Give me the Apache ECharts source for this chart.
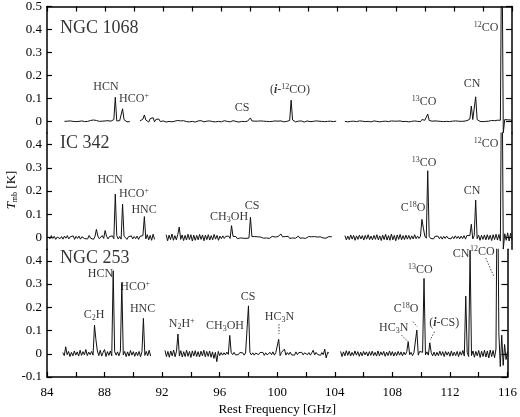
<!DOCTYPE html>
<html>
<head>
<meta charset="utf-8">
<script src="https://cdn.jsdelivr.net/npm/echarts@6.0.0/dist/echarts.min.js"></script>
<style>
  html, body { margin: 0; padding: 0; background: #fff; }
  #chart-container { width: 520px; height: 417px; }
</style>
</head>
<body>
<div id="chart-container"></div>
<script>
// spectra sampled every 0.1 GHz, values in mK; each segment has its own start frequency
const STEP = 0.1;

const ngc1068Starts = [85.2, 90.4, 104.5];
const ngc1068A = [0,-2,1,-1,2,-3,0,2,-1,3, 0,-2,2,1,-1,3,0,2,4,2, 6,10,4,-3,0,-2,1,-1,2,0, 3,-2,1,6,8,105,2,-1,3,6, 55,8,2,-2,1,-1];
const ngc1068B = [2,5,10,28,6,14,-3,12,4,16,-2,9,3,10,-1,6,2,7,-3,4,
  0,5,-2,3,1,-3,4,0,2,-2,3,1,-1,4,-2,2,0,3,-3,1,
  2,-1,3,0,-2,2,1,-3,2,0,-1,3,-2,1,0,2,-2,1,3,-1,
  0,2,-2,1,3,-1,0,2,-3,1,0,2,-1,3,1,0,15,2,-1,1,
  -2,1,0,2,-1,1,-2,0,3,-1,1,0,-2,2,0,1,-1,2,0,-2,
  1,0,2,4,92,6,1,-2,0,1,-1,2,0,-3,1,2,0,-1,3,0,
  -1,2,0,1,-2,0,3,-1,1,0,-2,1,2,-1,0,1];
const ngc1068C = [0,1,-2,2,0,-1,1,3,-1,0,2,-2,1,0,-1,2,0,1,-2,1,
  2,-1,0,1,-2,3,0,-1,1,2,-1,0,2,-2,1,0,1,-1,2,0,
  -1,1,0,2,-2,1,0,-1,2,1,0,3,-1,8,2,5,0,32,4,0,
  1,-1,2,0,1,-2,0,2,-1,1,0,2,-1,0,1,-2,2,0,1,-1,
  0,2,1,-1,3,4,10,67,8,14,107,8,2,0,1,-1,2,0,3,1,
  2,4,1,3,2,5,3,5,900,-50,8,5,7,4,6,3];

const ic342Starts = [84.1, 92.2, 104.5];
const ic342A = [3,-6,8,-4,5,-8,2,7,-5,4,-7,6,-3,8,-6,3,-2,7,-8,5,
  -4,6,-7,3,8,-5,2,-6,9,-3,5,-8,4,35,6,-5,3,8,-4,30,
  5,-6,4,-3,7,-5,187,8,-6,4,-7,144,6,5,-8,3,-4,7,-6,4,
  -5,6,-8,5,4,8,90,-6,12,-10,9,-12,14,-8];
const ic342B = [12,-14,10,-9,15,-12,8,-10,13,45,-8,11,-13,9,-11,14,-9,12,-15,10,
  -12,9,-10,13,-8,11,-14,10,-9,12,-11,8,-10,13,-7,9,-12,6,-5,7,
  -4,5,-3,6,-4,51,5,-3,4,-5,3,-2,4,-3,5,-4,3,-2,87,4,
  -3,4,-2,3,-4,2,5,-3,4,-2,3,-4,2,5,-3,2,-2,4,3,15,
  3,-3,4,-2,5,-4,3,-2,4,-3,2,6,-3,4,-2,3,-4,2,4,-3,
  3,-2,4,-3,2,-4,3,5,-2,3,-3,2,4,-2,3];
const ic342C = [8,-10,6,-9,11,-7,9,-12,7,-8,10,-6,8,-11,9,-7,12,-9,6,-10,
  9,-8,12,-10,7,-13,10,-9,14,-11,8,-12,15,-10,9,-14,11,-8,13,-10,
  8,-9,10,-7,9,-8,7,-6,12,-5,6,-4,5,78,40,6,-3,287,5,-4,
  4,-6,5,-3,6,-5,4,-7,5,-4,6,-3,5,-6,4,-5,7,-4,5,-6,
  6,-5,8,-7,9,5,8,57,-6,8,161,-5,10,-12,9,-8,11,-10,12,-9,
  10,-13,12,-9,14,-11,13,-15,900,-50,16,-12,20,-15,18,-10];

const ngc253Starts = [85.1, 92.2, 104.4];
const ngc253A = [5,-8,30,-4,10,-12,6,-9,12,-6,8,-10,15,-7,9,-5,18,-8,7,-4,
  10,-6,123,60,12,-8,15,-10,6,18,-12,9,-7,12,-9,357,10,-6,8,-9,
  12,303,-5,10,-12,8,-10,14,-6,9,-11,7,-8,10,-13,9,152,-7,10,-9,
  15,-10];
const ngc253B = [14,-12,10,-15,12,-9,16,-13,11,85,-10,13,-14,9,-12,15,-11,10,-16,12,
  -10,13,-12,9,-14,11,-9,15,-13,10,-11,12,-15,8,-20,6,-34,10,-8,5,
  -6,4,-5,7,-3,79,5,-4,6,-5,3,-4,5,-3,4,-6,3,5,206,6,
  -5,4,-6,3,7,-4,5,-3,6,-7,4,-5,3,6,-4,8,-6,5,-3,62,
  -8,6,4,20,-6,5,-4,7,-5,3,-6,8,-4,5,-3,6,-5,4,7,-4,
  5,-6,4,15,-5,6,-3,4,-7,5,-4,20,-18,6,3];
const ngc253C = [10,-12,8,-9,13,-7,11,-10,6,-8,12,-6,9,-11,7,-9,10,-5,8,-10,
  9,-7,11,-8,6,-10,12,-9,8,-6,10,-11,7,-8,12,-7,9,-10,6,-8,
  10,-6,8,-9,7,-5,9,52,-4,6,-8,5,4,102,-6,10,8,6,324,-5,
  8,-6,47,5,-9,7,-10,6,-8,11,-7,9,-12,10,-6,8,-11,12,-9,7,
  -8,10,-12,9,-6,14,-10,248,6,-12,445,-8,12,-15,10,-9,14,-16,11,-12,
  15,-14,12,-18,16,-12,14,-17,20,900,90,-55,80,-50,40,-25,10];

// axis ticks
const xLabels = [84, 88, 92, 96, 100, 104, 108, 112, 116];
const yTicksTop = [0, 0.1, 0.2, 0.3, 0.4, 0.5];
const yTicksMid = [0, 0.1, 0.2, 0.3, 0.4];
const yTicksBot = [-0.1, 0, 0.1, 0.2, 0.3, 0.4];

// panel names and line labels: [freq, T, text]
const panelNames = [[84.9, 0.405, 'NGC 1068'], [84.9, 0.406, 'IC 342'], [84.9, 0.412, 'NGC 253']];
const labelsTop = [
  [88.06, 0.152, 'HCN'], [89.99, 0.096, 'HCO{sup|+}'], [97.42, 0.061, 'CS'],
  [100.72, 0.139, '({i|i}-{sup|12}CO)'], [109.95, 0.083, '{sup|13}CO'],
  [113.25, 0.164, 'CN'], [114.21, 0.405, '{sup|12}CO']
];
const labelsMid = [
  [88.34, 0.247, 'HCN'], [89.99, 0.187, 'HCO{sup|+}'], [90.68, 0.118, 'HNC'],
  [96.53, 0.088, 'CH{sub|3}OH'], [98.11, 0.135, 'CS'], [109.19, 0.127, 'C{sup|18}O'],
  [109.95, 0.320, '{sup|13}CO'], [113.25, 0.2, 'CN'], [114.21, 0.402, '{sup|12}CO']
];
const labelsBot = [
  [87.27, 0.166, 'C{sub|2}H'], [87.72, 0.343, 'HCN'], [90.13, 0.287, 'HCO{sup|+}'],
  [90.64, 0.192, 'HNC'], [93.36, 0.128, 'N{sub|2}H{sup|+}'], [96.37, 0.12, 'CH{sub|3}OH'],
  [97.97, 0.244, 'CS'], [100.15, 0.158, 'HC{sub|3}N'], [108.09, 0.11, 'HC{sub|3}N'],
  [108.95, 0.192, 'C{sup|18}O'], [109.95, 0.36, '{sup|13}CO'], [111.6, 0.132, '({i|i}-CS)'],
  [112.77, 0.429, 'CN'], [114.25, 0.437, '{sup|12}CO']
];
// dotted leader lines in the NGC 253 panel
const leaders = [
  [[100.12, 0.128], [100.12, 0.085]],
  [[109.44, 0.138], [109.72, 0.116]],
  [[108.64, 0.08], [109.1, 0.051]],
  [[110.93, 0.095], [110.63, 0.059]],
  [[114.49, 0.412], [115.04, 0.334]]
];

const FONT = 'Liberation Serif';
const INK = '#000';

function buildSpectrum(starts, segs) {
  const out = [];
  segs.forEach((vals, i) => {
    if (i > 0) out.push([starts[i] - STEP / 2, null]);
    vals.forEach((v, k) => {
      out.push([Math.round(starts[i] * 10 + k) / 10, v / 1000]);
    });
  });
  return out;
}

const rich = {
  sup: { fontFamily: FONT, fontSize: 8, color: INK, padding: [0, 0, 6, 0] },
  sub: { fontFamily: FONT, fontSize: 8, color: INK, padding: [6, 0, 0, 0] },
  i: { fontFamily: FONT, fontSize: 12, color: INK, fontStyle: 'italic', fontWeight: 'bold' }
};

document.addEventListener('DOMContentLoaded', () => {
  const chart = echarts.init(document.getElementById('chart-container'));

  const grids = [
    { left: 47, right: 8, top: 5, height: 127.875 },
    { left: 47, right: 8, top: 132.875, height: 116.25 },
    { left: 47, right: 8, top: 249.125, height: 127.875 }
  ];
  const ranges = [[-0.05, 0.5], [-0.05, 0.45], [-0.1, 0.45]];
  const yTicks = [yTicksTop, yTicksMid, yTicksBot];

  const axisLine = { show: true, onZero: false, lineStyle: { color: INK, width: 1.5 } };

  const xAxis = [0, 1, 2].map(i => ({
    type: 'value', gridIndex: i, min: 84, max: 116, interval: 2,
    show: i !== 1,
    position: i === 0 ? 'top' : 'bottom',
    axisLine: axisLine,
    axisTick: { show: true, inside: true, length: 5, lineStyle: { color: INK, width: 1.2 } },
    axisLabel: {
      show: i === 2, customValues: xLabels, margin: 9,
      fontFamily: FONT, fontSize: 13, color: INK
    },
    splitLine: { show: false },
    name: i === 2 ? 'Rest Frequency [GHz]' : '',
    nameLocation: 'middle', nameGap: 26,
    nameTextStyle: { fontFamily: FONT, fontSize: 13, color: INK }
  }));

  const yAxis = [];
  [0, 1, 2].forEach(i => {
    ['left', 'right'].forEach(side => {
      yAxis.push({
        type: 'value', gridIndex: i, position: side,
        min: ranges[i][0], max: ranges[i][1],
        axisLine: axisLine,
        axisTick: { show: true, inside: true, length: side === 'left' ? 5 : 6, customValues: yTicks[i],
          lineStyle: { color: INK, width: 1.2 } },
        axisLabel: {
          show: side === 'left', customValues: yTicks[i], margin: 5,
          fontFamily: FONT, fontSize: 13, color: INK
        },
        splitLine: { show: false }
      });
    });
  });

  const spectra = [
    buildSpectrum(ngc1068Starts, [ngc1068A, ngc1068B, ngc1068C]),
    buildSpectrum(ic342Starts, [ic342A, ic342B, ic342C]),
    buildSpectrum(ngc253Starts, [ngc253A, ngc253B, ngc253C])
  ];

  const series = [];
  spectra.forEach((data, i) => {
    series.push({
      type: 'line', xAxisIndex: i, yAxisIndex: i * 2, data: data,
      symbol: 'none', smooth: false, clip: true, connectNulls: false, silent: true,
      lineStyle: { color: '#111', width: 1 }
    });
  });

  const labelSets = [labelsTop, labelsMid, labelsBot];
  labelSets.forEach((set, i) => {
    series.push({
      type: 'scatter', xAxisIndex: i, yAxisIndex: i * 2, symbolSize: 0, silent: true,
      data: set.map(d => ({ value: [d[0], d[1]], label: { formatter: d[2] } })),
      label: {
        show: true, position: 'inside', align: 'center', verticalAlign: 'middle',
        fontFamily: FONT, fontSize: 12, color: INK, rich: rich
      }
    });
    series.push({
      type: 'scatter', xAxisIndex: i, yAxisIndex: i * 2, symbolSize: 0, silent: true,
      data: [{ value: [panelNames[i][0], panelNames[i][1]], label: { formatter: panelNames[i][2] } }],
      label: {
        show: true, position: 'inside', align: 'left', verticalAlign: 'middle',
        fontFamily: FONT, fontSize: 18, color: INK
      }
    });
  });

  leaders.forEach(seg => {
    series.push({
      type: 'line', xAxisIndex: 2, yAxisIndex: 4, data: seg, symbol: 'none', silent: true,
      lineStyle: { color: '#222', width: 0.8, type: [1.5, 1.5] }
    });
  });

  const option = {
    animation: false,
    backgroundColor: '#fff',
    grid: grids,
    xAxis: xAxis,
    yAxis: yAxis,
    series: series,
    graphic: [{
      type: 'text', x: 12, y: 190, rotation: Math.PI / 2,
      style: {
        text: '{t|T}{s|mb} [K]', align: 'center', verticalAlign: 'middle',
        fontFamily: FONT, fontSize: 13, fill: INK,
        rich: {
          t: { fontFamily: FONT, fontSize: 13, fontStyle: 'italic', fill: INK },
          s: { fontFamily: FONT, fontSize: 8, fill: INK, padding: [6, 0, 0, 0] }
        }
      }
    }]
  };

  chart.setOption(option);
});
</script>
</body>
</html>
